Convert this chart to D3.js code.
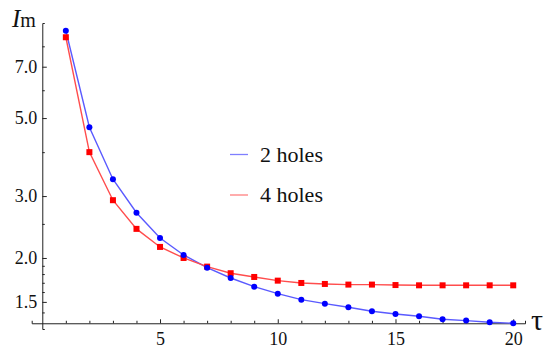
<!DOCTYPE html>
<html>
<head>
<meta charset="utf-8">
<script src="https://cdn.jsdelivr.net/npm/d3@7"></script>
<style>
  body { margin: 0; background: #fff; }
</style>
</head>
<body>
<svg id="chart" width="550" height="354"></svg>
<script>
// data
const tau       = [1,2,3,4,5,6,7,8,9,10,11,12,13,14,15,16,17,18,19,20];
const twoHoles  = [8.86,4.71,3.35,2.69,2.28,2.04,1.877,1.754,1.657,1.583,1.522,1.483,1.448,1.411,1.386,1.365,1.339,1.327,1.313,1.304];
const fourHoles = [8.49,4.00,2.92,2.42,2.15,2.00,1.89,1.81,1.766,1.724,1.698,1.687,1.68,1.68,1.675,1.672,1.672,1.672,1.672,1.672];
const seriesNames = ["2 holes", "4 holes"];

const yMajor = [1.5, 2.0, 3.0, 5.0, 7.0];
const yMinor = [1.4, 1.6, 1.7, 1.8, 1.9, 2.5, 4, 6, 8];
const xMajor = [5, 10, 15, 20];
const xMinor = [1,2,3,4,6,7,8,9,11,12,13,14,16,17,18,19];

const serif = "'Liberation Serif', 'Noto Serif', 'Times New Roman', 'DejaVu Serif', serif";
const svg = d3.select('#chart');

const x = d3.scaleLinear().domain([-0.45, 20.5]).range([31.7, 525]);
const y = d3.scaleLog().domain([1.256, 9.32]).range([329, 23]);

const axisColor = '#222';
const xAxisY = y(1.304);
const yAxisX = x(0);

// x axis
const gx = svg.append('g').attr('transform', `translate(0,${xAxisY})`);
gx.call(d3.axisBottom(x).tickValues(xMinor).tickSize(-2.5).tickFormat(''));
gx.append('g').call(d3.axisBottom(x).tickValues(xMajor).tickSize(-4).tickPadding(9)
    .tickFormat(d3.format('d')))
  .call(g => g.select('.domain').remove());

// y axis
const gy = svg.append('g').attr('transform', `translate(${yAxisX},0)`);
gy.call(d3.axisLeft(y).tickValues(yMinor).tickSize(-2.5).tickFormat(''));
gy.append('g').call(d3.axisLeft(y).tickValues(yMajor).tickSize(-4.5).tickPadding(5)
    .tickFormat(d3.format('.1f')))
  .call(g => g.select('.domain').remove());

svg.selectAll('g').attr('font-family', serif);
svg.selectAll('.domain, .tick line').attr('stroke', axisColor).attr('stroke-width', 1);
svg.selectAll('.tick text').attr('fill', '#111').attr('font-size', 18);

// axis labels
const ylab = svg.append('text').attr('x', 12).attr('y', 27).attr('fill', '#111')
  .attr('font-family', serif);
ylab.append('tspan').attr('font-style', 'italic').attr('font-size', 25).text('I');
ylab.append('tspan').attr('font-size', 20).text('m');

svg.append('text').attr('x', 531).attr('y', 330).attr('font-size', 30)
  .attr('font-family', serif).attr('fill', '#111').text('τ');

// series
const series = [
  { name: seriesNames[0], values: twoHoles,  line: '#5a5aff', mark: '#0000ff', shape: 'circle' },
  { name: seriesNames[1], values: fourHoles, line: '#ff4d4d', mark: '#ff0000', shape: 'square' }
];

const line = d3.line()
  .x((d, i) => x(tau[i]))
  .y(d => y(d));

series.forEach(s => {
  svg.append('path')
    .attr('d', line(s.values))
    .attr('fill', 'none')
    .attr('stroke', s.line)
    .attr('stroke-width', 1.4);
});

// red squares first, blue dots on top
[series[1], series[0]].forEach(s => {
  const g = svg.append('g').attr('fill', s.mark);
  if (s.shape === 'circle') {
    g.selectAll('circle').data(s.values).enter().append('circle')
      .attr('cx', (d, i) => x(tau[i]))
      .attr('cy', d => y(d))
      .attr('r', 3);
  } else {
    g.selectAll('rect').data(s.values).enter().append('rect')
      .attr('x', (d, i) => x(tau[i]) - 3)
      .attr('y', d => y(d) - 3)
      .attr('width', 6)
      .attr('height', 6);
  }
});

// legend
const legendColors = ['#7f7fff', '#ff7f7f'];
const legend = svg.append('g').attr('font-family', serif);
seriesNames.forEach((name, i) => {
  const ly = 154.5 + i * 40.5;
  legend.append('line')
    .attr('x1', 230).attr('x2', 248)
    .attr('y1', ly).attr('y2', ly)
    .attr('stroke', legendColors[i]).attr('stroke-width', 1.3);
  legend.append('text')
    .attr('x', 260).attr('y', ly + 7)
    .attr('font-size', 22)
    .attr('fill', '#111')
    .text(name);
});
</script>
</body>
</html>
